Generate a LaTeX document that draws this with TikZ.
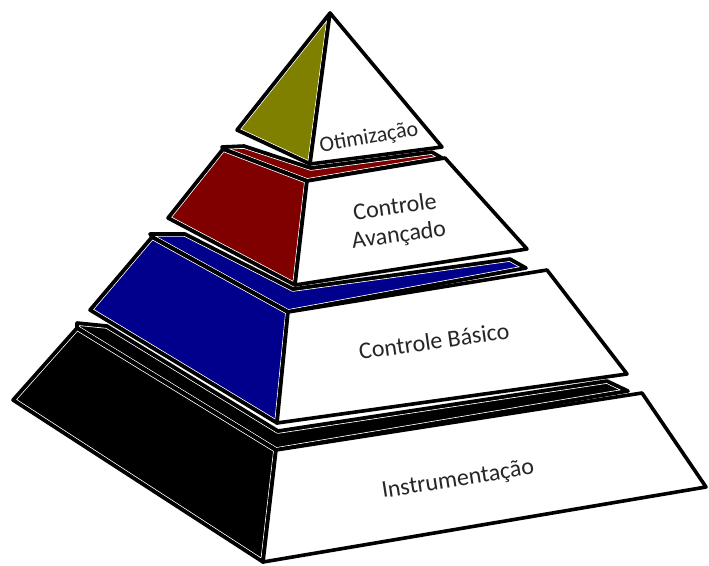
\documentclass[tikz,border=0pt]{standalone}
\usepackage{fontspec}
\setmainfont{Carlito}
\definecolor{olivef}{RGB}{128,128,0}
\definecolor{redf}{RGB}{128,0,0}
\definecolor{bluef}{RGB}{0,0,140}
\definecolor{txtc}{RGB}{38,38,38}
\tikzset{
  outl/.style={black, line width=3.6pt, line join=round},
  glint/.style={white, line width=5.4pt, line join=round},
  tiertext/.style={font=\fontsize{24}{28}\selectfont, text=txtc, align=center, inner sep=0pt},
}
\newcommand\pyrface[2]{%
  \fill[#1] #2 -- cycle;
  \begin{scope}
    \clip #2 -- cycle;
    \draw[glint] #2 -- cycle;
    \draw[outl] #2 -- cycle;
  \end{scope}
  \draw[outl] #2 -- cycle;}
\newcommand\whiteface[1]{%
  \fill[white] #1 -- cycle;
  \draw[outl] #1 -- cycle;}
\begin{document}
\begin{tikzpicture}[x=1pt,y=-1pt]
\useasboundingbox (0,0) rectangle (709,565);
% tier 1
\coordinate (A) at (330,13);
\coordinate (L1) at (237,130);
\coordinate (C1) at (310,164);
\coordinate (R1) at (442,147);
% tier 2
\coordinate (T2a) at (222,147);
\coordinate (T2b) at (244,146);
\coordinate (T2c) at (311,168);
\coordinate (T2d) at (432,152);
\coordinate (T2e) at (442,158);
\coordinate (TL2) at (223,149);
\coordinate (TC2) at (307,181);
\coordinate (TR2) at (445,158);
\coordinate (BR2) at (527,249);
\coordinate (BC2) at (295,285);
\coordinate (BL2) at (168,218);
% tier 3
\coordinate (T3a) at (150,234);
\coordinate (T3b) at (185,234);
\coordinate (T3c) at (293,289);
\coordinate (T3d) at (510,259);
\coordinate (T3e) at (526,268);
\coordinate (TL3) at (152,237);
\coordinate (TC3) at (288,312);
\coordinate (TR3) at (547,270);
\coordinate (BR3) at (627,374);
\coordinate (BC3) at (277,423);
\coordinate (BL3) at (90,310);
% tier 4
\coordinate (T4a) at (77,323);
\coordinate (T4b) at (107,326);
\coordinate (T4c) at (278,431);
\coordinate (T4d) at (607,381);
\coordinate (T4e) at (628,391);
\coordinate (TL4) at (77,328);
\coordinate (TC4) at (276,450);
\coordinate (TR4) at (642,393);
\coordinate (BR4) at (706,487);
\coordinate (BC4) at (263,562);
\coordinate (BL4) at (13,400);

% tier 4 (bottom)
\pyrface{black}{(T4a) -- (T4b) -- (T4c) -- (T4d) -- (T4e) -- (TC4) -- (TL4)}
\pyrface{black}{(TL4) -- (TC4) -- (BC4) -- (BL4)}
\whiteface{(TC4) -- (TR4) -- (BR4) -- (BC4)}
% tier 3
\pyrface{bluef}{(T3a) -- (T3b) -- (T3c) -- (T3d) -- (T3e) -- (TC3) -- (TL3)}
\pyrface{bluef}{(TL3) -- (TC3) -- (BC3) -- (BL3)}
\whiteface{(TC3) -- (TR3) -- (BR3) -- (BC3)}
% tier 2
\pyrface{redf}{(T2a) -- (T2b) -- (T2c) -- (T2d) -- (T2e) -- (TC2) -- (TL2)}
\pyrface{redf}{(TL2) -- (TC2) -- (BC2) -- (BL2)}
\whiteface{(TC2) -- (TR2) -- (BR2) -- (BC2)}
% tier 1 (top)
\pyrface{olivef}{(A) -- (C1) -- (L1)}
\whiteface{(A) -- (R1) -- (C1)}

\node[tiertext, font=\fontsize{22}{26}\selectfont, rotate=10] (t1) at (369,138) {Otimização};
\node[tiertext, rotate=8] (t2) at (397,222) {Controle\\Avançado};
\node[tiertext, rotate=8] (t3) at (434,341) {Controle Básico};
\node[tiertext, rotate=9] (t4) at (458,480) {Instrumentação};
\end{tikzpicture}
\end{document}
